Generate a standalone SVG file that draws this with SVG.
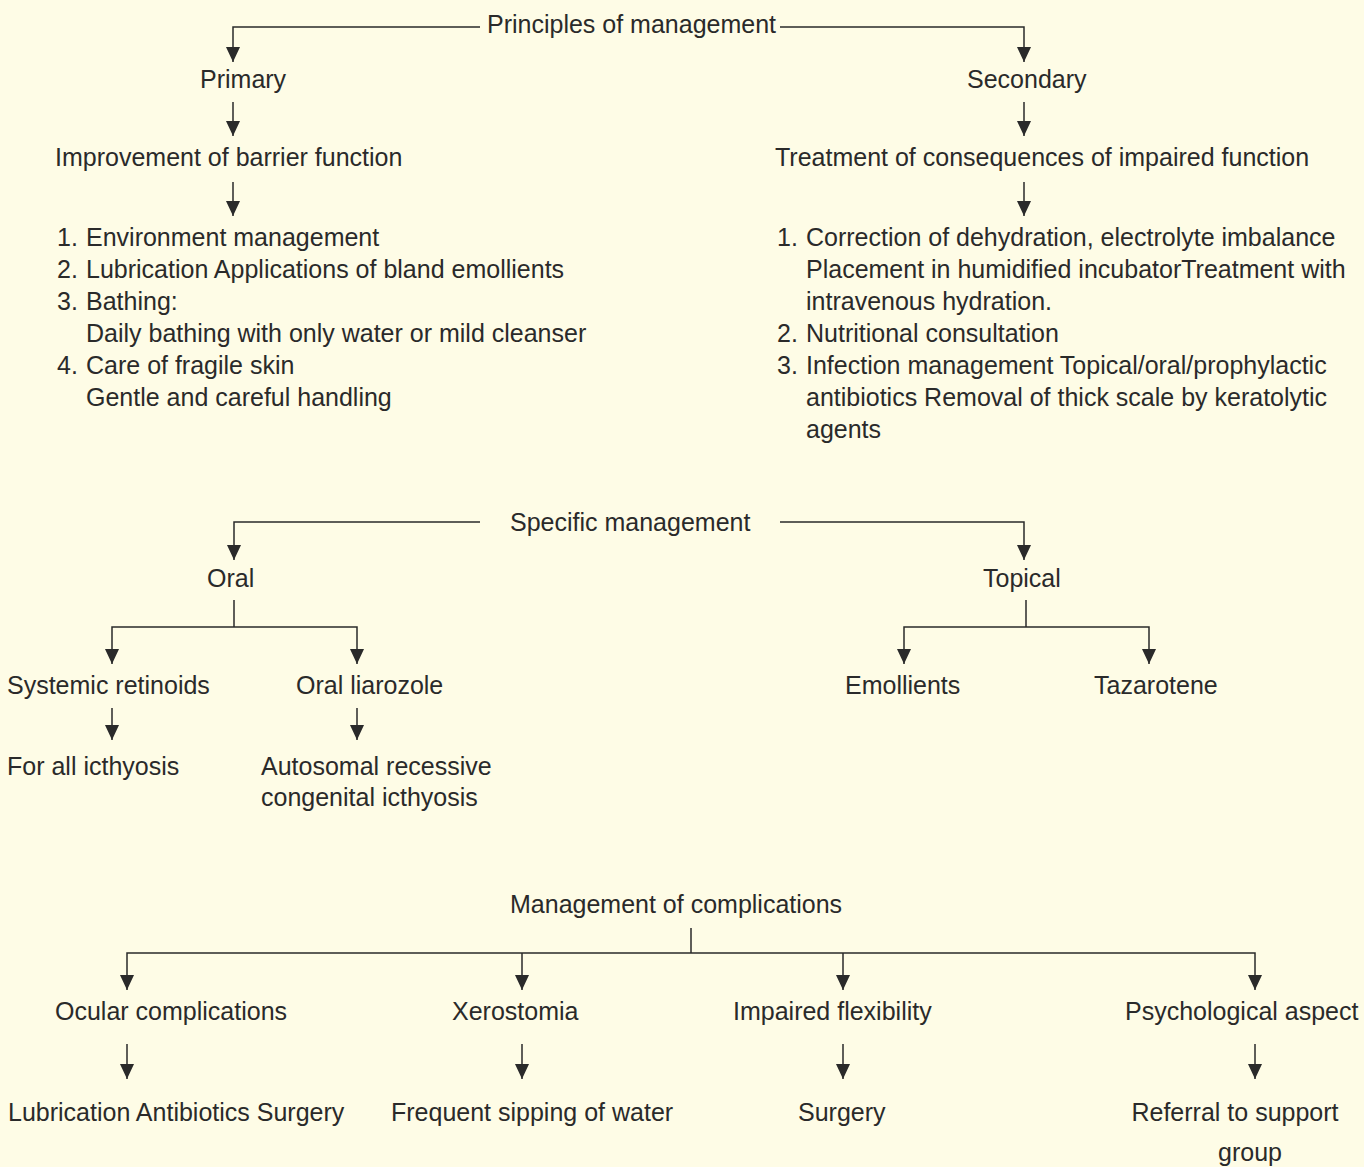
<svg xmlns="http://www.w3.org/2000/svg" width="1364" height="1167" viewBox="0 0 1364 1167">
<style>
text{font-family:"Liberation Sans",Arial,sans-serif;font-size:25px;fill:#2a2a2a}
.c line,.c path{stroke:#2a2a2a;stroke-width:1.5;fill:none}
.a{marker-end:url(#ah)}
</style>
<defs>
<marker id="ah" markerUnits="userSpaceOnUse" markerWidth="16" markerHeight="14" refX="15" refY="7" orient="auto" viewBox="0 0 16 14">
<path d="M0,0 L15,7 L0,14 z" fill="#2a2a2a"/>
</marker>
</defs>
<rect width="1364" height="1167" fill="#fefce6"/>
<g class="c" id="connectors">
<path d="M480,27 H233 V62" class="a"/>
<path d="M780,27 H1024 V62" class="a"/>
<line x1="233" y1="102" x2="233" y2="136" class="a"/>
<line x1="1024" y1="102" x2="1024" y2="136" class="a"/>
<line x1="233" y1="182" x2="233" y2="216" class="a"/>
<line x1="1024" y1="182" x2="1024" y2="216" class="a"/>
<path d="M480,522 H234 V560" class="a"/>
<path d="M780,522 H1024 V560" class="a"/>
<path d="M234,600 V627"/>
<path d="M234,627 H112 V664" class="a"/>
<path d="M234,627 H357 V664" class="a"/>
<line x1="112" y1="708" x2="112" y2="740" class="a"/>
<line x1="357" y1="708" x2="357" y2="740" class="a"/>
<path d="M1026,600 V627"/>
<path d="M1026,627 H904 V664" class="a"/>
<path d="M1026,627 H1149 V664" class="a"/>
<path d="M691,928 V953"/>
<path d="M691,953 H127 V990" class="a"/>
<path d="M691,953 H1255 V990" class="a"/>
<path d="M522,953 V990" class="a"/>
<path d="M843,953 V990" class="a"/>
<line x1="127" y1="1044" x2="127" y2="1079" class="a"/>
<line x1="522" y1="1044" x2="522" y2="1079" class="a"/>
<line x1="843" y1="1044" x2="843" y2="1079" class="a"/>
<line x1="1255" y1="1044" x2="1255" y2="1079" class="a"/>
</g>
<g id="principles"><text x="487" y="33">Principles of management</text></g>
<g id="primary"><text x="200" y="88">Primary</text></g>
<g id="secondary"><text x="967" y="88">Secondary</text></g>
<g id="barrier"><text x="55" y="166">Improvement of barrier function</text></g>
<g id="consequences"><text x="775" y="166">Treatment of consequences of impaired function</text></g>
<g id="primary-list">
<text x="57" y="246">1.</text><text x="86" y="246">Environment management</text>
<text x="57" y="278">2.</text><text x="86" y="278">Lubrication Applications of bland emollients</text>
<text x="57" y="310">3.</text><text x="86" y="310">Bathing:</text>
<text x="86" y="342">Daily bathing with only water or mild cleanser</text>
<text x="57" y="374">4.</text><text x="86" y="374">Care of fragile skin</text>
<text x="86" y="406">Gentle and careful handling</text>
</g>
<g id="secondary-list">
<text x="777" y="246">1.</text><text x="806" y="246">Correction of dehydration, electrolyte imbalance</text>
<text x="806" y="278">Placement in humidified incubatorTreatment with</text>
<text x="806" y="310">intravenous hydration.</text>
<text x="777" y="342">2.</text><text x="806" y="342">Nutritional consultation</text>
<text x="777" y="374">3.</text><text x="806" y="374">Infection management Topical/oral/prophylactic</text>
<text x="806" y="406">antibiotics Removal of thick scale by keratolytic</text>
<text x="806" y="438">agents</text>
</g>
<g id="specific"><text x="510" y="531">Specific management</text></g>
<g id="oral"><text x="207" y="587">Oral</text></g>
<g id="topical"><text x="983" y="587">Topical</text></g>
<g id="retinoids"><text x="7" y="694">Systemic retinoids</text></g>
<g id="liarozole"><text x="296" y="694">Oral liarozole</text></g>
<g id="all-icthyosis"><text x="7" y="775">For all icthyosis</text></g>
<g id="autosomal"><text x="261" y="775">Autosomal recessive</text><text x="261" y="806">congenital icthyosis</text></g>
<g id="emollients"><text x="845" y="694">Emollients</text></g>
<g id="tazarotene"><text x="1094" y="694">Tazarotene</text></g>
<g id="complications"><text x="510" y="913">Management of complications</text></g>
<g id="ocular"><text x="55" y="1020">Ocular complications</text></g>
<g id="xerostomia"><text x="452" y="1020">Xerostomia</text></g>
<g id="flexibility"><text x="733" y="1020">Impaired flexibility</text></g>
<g id="psychological"><text x="1125" y="1020">Psychological aspect</text></g>
<g id="ocular-tx"><text x="8" y="1121">Lubrication Antibiotics Surgery</text></g>
<g id="xero-tx"><text x="391" y="1121">Frequent sipping of water</text></g>
<g id="flex-tx"><text x="798" y="1121">Surgery</text></g>
<g id="psych-tx"><text x="1235" y="1121" text-anchor="middle">Referral to support</text><text x="1250" y="1161" text-anchor="middle">group</text></g>
</svg>
